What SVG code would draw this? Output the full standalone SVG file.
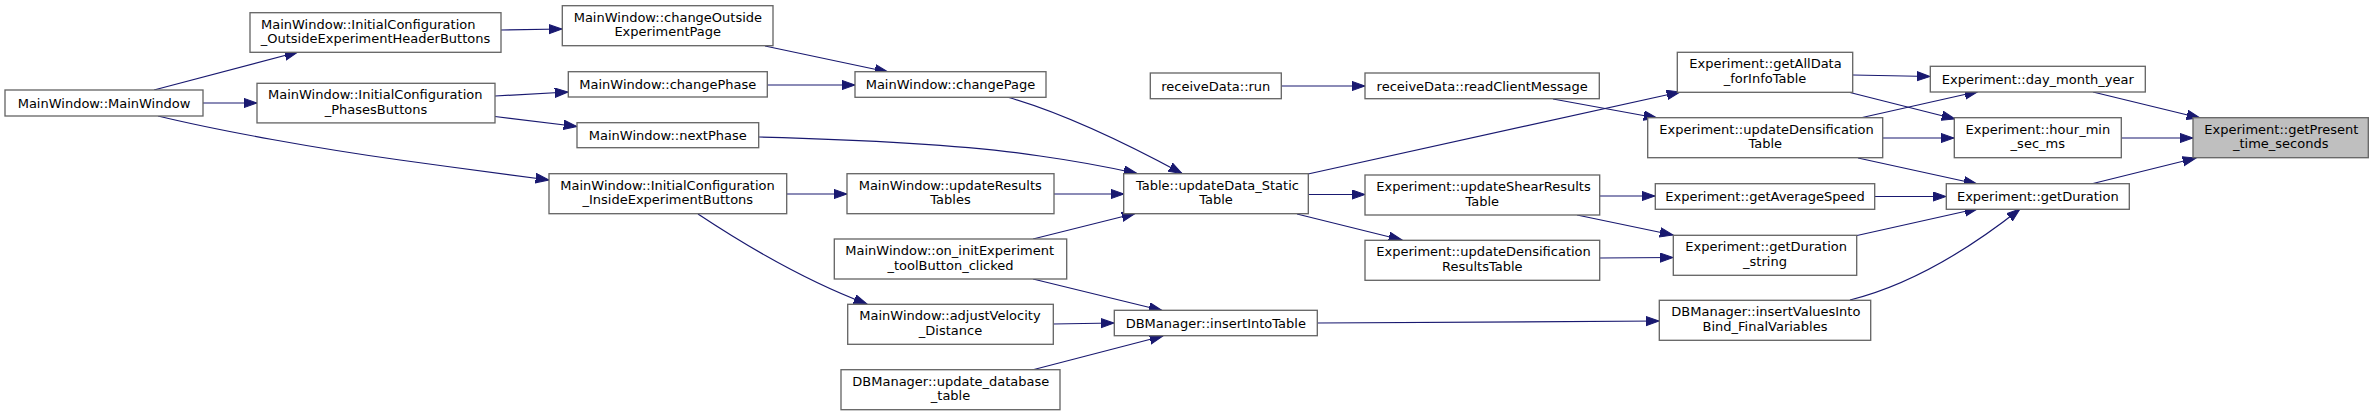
<svg xmlns="http://www.w3.org/2000/svg" width="2373" height="416" viewBox="0 0 2373 416">
<style>
.node rect{fill:#ffffff;stroke:#666666;stroke-width:1.33}
.cur rect{fill:#bfbfbf}
text{font-family:"DejaVu Sans","Liberation Sans",sans-serif;font-size:13px;fill:#000000}
.s{text-anchor:start}
.m{text-anchor:middle}
#edges path{fill:none;stroke:#191970;stroke-width:1.2;marker-end:url(#ah)}
</style>
<defs>
<marker id="ah" markerUnits="userSpaceOnUse" markerWidth="15" markerHeight="11" refX="13.3" refY="5" orient="auto">
<path d="M0,0.3 L13.3,5 L0,9.7 z" fill="#191970" stroke="#191970" stroke-width="1"/>
</marker>
</defs>
<rect width="2373" height="416" fill="#ffffff"/>
<g id="edges">
<path d="M154,90 L298,52"/>
<path d="M203,103 L257,103"/>
<path d="M158,116 C220,131 320,149 400,160 C450,167 505,174 549,180"/>
<path d="M501,30 L562,29"/>
<path d="M495,96 L568,92"/>
<path d="M495,116.5 L577,126.5"/>
<path d="M765,46 L888,72"/>
<path d="M767,85 L855,85"/>
<path d="M759,137 Q950,142 1040,156 Q1090,163 1137,173.5"/>
<path d="M1007,97 C1060,112 1120,140 1182,173.5"/>
<path d="M787,194 L847,194"/>
<path d="M698,214 Q790,275 867,304"/>
<path d="M1054,194 L1124,194"/>
<path d="M1033,239 L1135,213.5"/>
<path d="M1033,279 L1162,310.5"/>
<path d="M1053,324 L1114,323"/>
<path d="M1032,370 L1163,336"/>
<path d="M1281,86 L1365,86"/>
<path d="M1308,174 L1680,92"/>
<path d="M1553,99 L1657,118"/>
<path d="M1308,194.5 L1365,194.5"/>
<path d="M1297,214 L1402,240"/>
<path d="M1317,323 L1659,321"/>
<path d="M1577,215 L1673,235"/>
<path d="M1599,196 L1655,196"/>
<path d="M1600,258 L1673,257.5"/>
<path d="M1853,75 L1930,76.5"/>
<path d="M1850,92.5 L1955,119"/>
<path d="M1860,118 L1978,91.5"/>
<path d="M1883,138 L1954,138"/>
<path d="M1858,158 L1977,184"/>
<path d="M1875,196.5 L1946,196.5"/>
<path d="M1857,235.5 L1978,208.5"/>
<path d="M1850,300 Q1930,280 2020,209"/>
<path d="M2093,92 L2200,118"/>
<path d="M2121,138 L2193,138"/>
<path d="M2091,184 L2196,158"/>
</g>
<g id="n_MainWindow" class="node"><rect x="5" y="90" width="198" height="26"/><text class="m" x="104" y="107.7">MainWindow::MainWindow</text></g>
<g id="n_OutsideHeader" class="node"><rect x="250" y="12.7" width="251" height="39.6"/><text class="s" x="261" y="28.7">MainWindow::InitialConfiguration</text><text class="m" x="375.5" y="43.3">_OutsideExperimentHeaderButtons</text></g>
<g id="n_Phases" class="node"><rect x="257" y="83.3" width="238" height="39.6"/><text class="s" x="268" y="99.3">MainWindow::InitialConfiguration</text><text class="m" x="376" y="113.9">_PhasesButtons</text></g>
<g id="n_changeOutside" class="node"><rect x="562.3" y="5.7" width="210.7" height="40"/><text class="s" x="573.7" y="21.7">MainWindow::changeOutside</text><text class="m" x="667.7" y="36.3">ExperimentPage</text></g>
<g id="n_changePhase" class="node"><rect x="568.3" y="71.7" width="199" height="25.3"/><text class="m" x="667.8" y="89">MainWindow::changePhase</text></g>
<g id="n_nextPhase" class="node"><rect x="577" y="122.7" width="181.7" height="25"/><text class="m" x="667.8" y="139.9">MainWindow::nextPhase</text></g>
<g id="n_InsideExp" class="node"><rect x="549" y="173.7" width="237.7" height="40"/><text class="s" x="560.3" y="189.7">MainWindow::InitialConfiguration</text><text class="m" x="667.8" y="204.3">_InsideExperimentButtons</text></g>
<g id="n_changePage" class="node"><rect x="855" y="71.7" width="191" height="25.6"/><text class="m" x="950.5" y="89.2">MainWindow::changePage</text></g>
<g id="n_updateResultsTables" class="node"><rect x="847" y="173.7" width="207" height="40"/><text class="s" x="858.7" y="189.7">MainWindow::updateResults</text><text class="m" x="950.5" y="204.3">Tables</text></g>
<g id="n_onInit" class="node"><rect x="834.3" y="239" width="232.4" height="40"/><text class="s" x="845.3" y="255">MainWindow::on_initExperiment</text><text class="m" x="950.5" y="269.6">_toolButton_clicked</text></g>
<g id="n_adjustVelocity" class="node"><rect x="847.7" y="304.3" width="205.6" height="40"/><text class="s" x="859.3" y="320.3">MainWindow::adjustVelocity</text><text class="m" x="950.5" y="334.9">_Distance</text></g>
<g id="n_updateDatabase" class="node"><rect x="841" y="369.7" width="219" height="40"/><text class="s" x="852.3" y="385.7">DBManager::update_database</text><text class="m" x="950.5" y="400.3">_table</text></g>
<g id="n_run" class="node"><rect x="1150.3" y="73" width="131" height="25.7"/><text class="m" x="1215.8" y="90.6">receiveData::run</text></g>
<g id="n_Table" class="node"><rect x="1123.7" y="173.7" width="184.6" height="40"/><text class="s" x="1136" y="189.7">Table::updateData_Static</text><text class="m" x="1216" y="204.3">Table</text></g>
<g id="n_insertIntoTable" class="node"><rect x="1114.3" y="310.3" width="203" height="25.4"/><text class="m" x="1215.8" y="327.7">DBManager::insertIntoTable</text></g>
<g id="n_readClient" class="node"><rect x="1365" y="73" width="234.3" height="25.7"/><text class="m" x="1482.2" y="90.6">receiveData::readClientMessage</text></g>
<g id="n_updateShear" class="node"><rect x="1365" y="175" width="234.7" height="40"/><text class="s" x="1376.3" y="191">Experiment::updateShearResults</text><text class="m" x="1482.3" y="205.6">Table</text></g>
<g id="n_updateDensResults" class="node"><rect x="1365" y="240.3" width="234.7" height="40"/><text class="s" x="1376.3" y="256.3">Experiment::updateDensification</text><text class="m" x="1482.3" y="270.9">ResultsTable</text></g>
<g id="n_getAllData" class="node"><rect x="1677.3" y="52.3" width="175.4" height="40"/><text class="s" x="1689.3" y="68.3">Experiment::getAllData</text><text class="m" x="1765" y="82.9">_forInfoTable</text></g>
<g id="n_updateDens" class="node"><rect x="1647.7" y="117.7" width="235" height="40"/><text class="s" x="1659.3" y="133.7">Experiment::updateDensification</text><text class="m" x="1765.2" y="148.3">Table</text></g>
<g id="n_getAverageSpeed" class="node"><rect x="1655.3" y="183.7" width="219.4" height="25.6"/><text class="m" x="1765" y="201.2">Experiment::getAverageSpeed</text></g>
<g id="n_getDurationString" class="node"><rect x="1673.3" y="235.3" width="183.4" height="40"/><text class="s" x="1685.3" y="251.3">Experiment::getDuration</text><text class="m" x="1765" y="265.9">_string</text></g>
<g id="n_insertValues" class="node"><rect x="1659.3" y="300.3" width="211.4" height="40"/><text class="s" x="1671.3" y="316.3">DBManager::insertValuesInto</text><text class="m" x="1765" y="330.9">Bind_FinalVariables</text></g>
<g id="n_dayMonthYear" class="node"><rect x="1930.3" y="66.3" width="215" height="25.7"/><text class="m" x="2037.8" y="83.9">Experiment::day_month_year</text></g>
<g id="n_hourMin" class="node"><rect x="1954.3" y="117.7" width="167" height="40"/><text class="s" x="1965.5" y="133.7">Experiment::hour_min</text><text class="m" x="2037.8" y="148.3">_sec_ms</text></g>
<g id="n_getDuration" class="node"><rect x="1946.3" y="183.7" width="183" height="25.6"/><text class="m" x="2037.8" y="201.2">Experiment::getDuration</text></g>
<g id="n_getPresent" class="node cur"><rect x="2193" y="117.7" width="175.3" height="40"/><text class="s" x="2204.3" y="133.7">Experiment::getPresent</text><text class="m" x="2280.7" y="148.3">_time_seconds</text></g>
</svg>
